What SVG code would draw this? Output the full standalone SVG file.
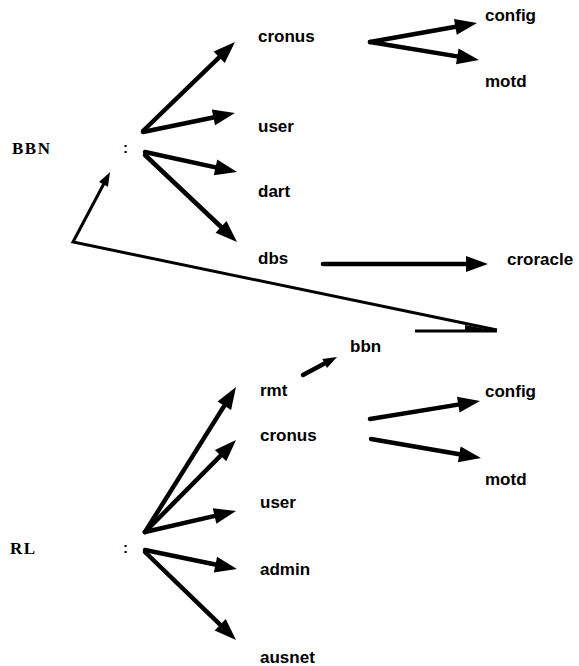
<svg xmlns="http://www.w3.org/2000/svg" width="579" height="666" viewBox="0 0 579 666">
<style>
.lbl{font-family:"Liberation Sans",Arial,sans-serif;font-weight:bold;font-size:17px;fill:#000}
.root{font-family:"Liberation Serif","Times New Roman",serif;font-weight:bold;font-size:17px;letter-spacing:1.5px;fill:#000}
.col{font-family:"Liberation Sans",Arial,sans-serif;font-weight:bold;font-size:15px;fill:#000}
.thick{stroke:#000;stroke-width:4.5;fill:none;stroke-linecap:round;marker-end:url(#ah)}
.thin{stroke:#000;stroke-width:3;fill:none;stroke-linejoin:miter}
</style>
<defs>
<marker id="ah" markerUnits="userSpaceOnUse" markerWidth="22" markerHeight="16" refX="6" refY="8" orient="auto" overflow="visible">
<path d="M0,0 L22,8 L0,16 z" fill="#000"/>
</marker>
<marker id="sm" markerUnits="userSpaceOnUse" markerWidth="14" markerHeight="10" refX="3" refY="5" orient="auto" overflow="visible">
<path d="M0,0 L14,5 L0,10 z" fill="#000"/>
</marker>
</defs>
<g id="connectors">
<line class="thick" x1="143" y1="131" x2="223.5" y2="53.1"/>
<line class="thick" x1="143" y1="132" x2="219.3" y2="116.2"/>
<line class="thick" x1="145" y1="152" x2="221.4" y2="168.6"/>
<line class="thick" x1="145" y1="155" x2="225.4" y2="231"/>
<line class="thick" x1="370" y1="42" x2="461.3" y2="25.8"/>
<line class="thick" x1="370" y1="42" x2="463.2" y2="57.4"/>
<line class="thick" x1="323" y1="264" x2="472" y2="264"/>
<path class="thin" d="M497,330 L73,242 L104.9,181.8" marker-end="url(#sm)"/>
<line class="thin" x1="415" y1="331" x2="497" y2="331"/>
<polygon points="465,325 497,331 465,331" fill="#000"/>
<line class="thick" style="marker-end:url(#sm)" x1="303" y1="375" x2="327.3" y2="362.1"/>
<line class="thick" x1="145" y1="532" x2="227.5" y2="400.6"/>
<line class="thick" x1="145" y1="532" x2="224.8" y2="451.4"/>
<line class="thick" x1="145" y1="532" x2="220.4" y2="514.6"/>
<line class="thick" x1="145" y1="550" x2="221.3" y2="565.8"/>
<line class="thick" x1="145" y1="552" x2="224.5" y2="628.9"/>
<line class="thick" x1="370" y1="419" x2="464.2" y2="403.6"/>
<line class="thick" x1="371" y1="439" x2="465.2" y2="455.3"/>
</g>
<g id="bbn-root"><text class="root" x="12" y="154">BBN</text><text class="col" x="123" y="153">:</text></g>
<g id="bbn-cronus"><text class="lbl" x="258" y="42">cronus</text></g>
<g id="bbn-user"><text class="lbl" x="258" y="132">user</text></g>
<g id="bbn-dart"><text class="lbl" x="258" y="197">dart</text></g>
<g id="bbn-dbs"><text class="lbl" x="258" y="264">dbs</text></g>
<g id="bbn-config"><text class="lbl" x="485" y="21">config</text></g>
<g id="bbn-motd"><text class="lbl" x="485" y="87">motd</text></g>
<g id="bbn-croracle"><text class="lbl" x="507" y="265">croracle</text></g>
<g id="rl-bbn"><text class="lbl" x="350" y="352">bbn</text></g>
<g id="rl-root"><text class="root" x="10" y="554">RL</text><text class="col" x="123" y="553">:</text></g>
<g id="rl-rmt"><text class="lbl" x="260" y="396">rmt</text></g>
<g id="rl-cronus"><text class="lbl" x="260" y="441">cronus</text></g>
<g id="rl-user"><text class="lbl" x="260" y="508">user</text></g>
<g id="rl-admin"><text class="lbl" x="260" y="575">admin</text></g>
<g id="rl-ausnet"><text class="lbl" x="260" y="663">ausnet</text></g>
<g id="rl-config"><text class="lbl" x="485" y="397">config</text></g>
<g id="rl-motd"><text class="lbl" x="485" y="485">motd</text></g>
</svg>
